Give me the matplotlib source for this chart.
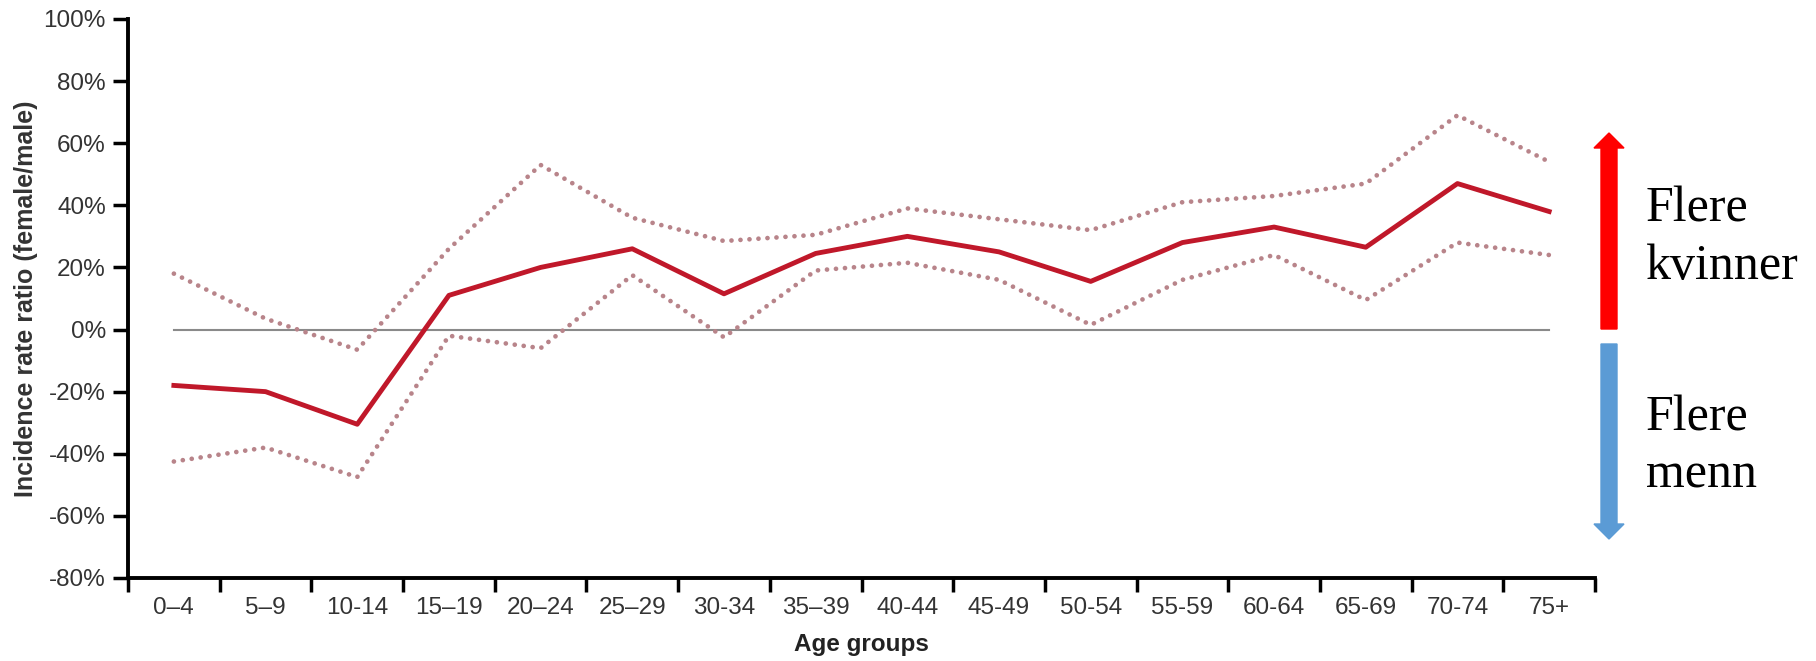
import numpy as np
import matplotlib.pyplot as plt
from matplotlib.ticker import FixedLocator, PercentFormatter
from matplotlib.patches import FancyArrow

plt.rcParams['font.family'] = ['Liberation Sans', 'DejaVu Sans']
plt.rcParams['axes.unicode_minus'] = False

age_groups = ['0–4', '5–9', '10-14', '15–19', '20–24', '25–29', '30-34', '35–39',
              '40-44', '45-49', '50-54', '55-59', '60-64', '65-69', '70-74', '75+']
irr = [-18, -20, -30.5, 11, 20, 26, 11.5, 24.5, 30, 25, 15.5, 28, 33, 26.5, 47, 38]
upper = [18, 3.5, -6.5, 26, 53, 36, 28.5, 30.5, 39, 35.5, 32, 41, 43, 47, 69, 54]
lower = [-42.5, -38, -47.5, -2, -6, 17.5, -2.5, 19, 21.5, 16, 1.5, 16, 24, 9.5, 28, 24]

ticklabels_y = [-80, -60, -40, -20, 0, 20, 40, 60, 80, 100]

fig = plt.figure(figsize=(18.16, 6.61), dpi=100)
ax = fig.add_axes([0.0705, 0.1256, 0.8078, 0.8457])

x = np.arange(len(age_groups))
ax.plot([x[0], x[-1]], [0, 0], color='#8a8a8a', lw=1.5, zorder=1)
ax.plot(x, upper, color='#b8848a', lw=3.4, linestyle=(0, (0.01, 1.9)),
        dash_capstyle='round', zorder=2)
ax.plot(x, lower, color='#b8848a', lw=3.4, linestyle=(0, (0.01, 1.9)),
        dash_capstyle='round', zorder=2)
ax.plot(x, irr, color='#c0182a', lw=3.5, zorder=3)

ax.set_xlim(-0.5, len(age_groups) - 0.5)
ax.set_ylim(-80, 100)

ax.set_xticks(x)
ax.set_xticklabels(age_groups)
ax.xaxis.set_minor_locator(FixedLocator(np.arange(-0.5, len(age_groups), 1)))
ax.tick_params(axis='x', which='major', length=0, pad=14, labelsize=17.5, labelcolor='#333333')
ax.tick_params(axis='x', which='minor', length=10, width=2.5, direction='out', color='black')

ax.set_yticks(ticklabels_y)
ax.yaxis.set_major_formatter(PercentFormatter(decimals=0))
ax.tick_params(axis='y', length=11, width=2.5, pad=5, labelsize=17.5, labelcolor='#333333')

for s in ['top', 'right']:
    ax.spines[s].set_visible(False)
for s in ['left', 'bottom']:
    ax.spines[s].set_linewidth(2.8)

ax.set_ylabel('Incidence rate ratio (female/male)', fontsize=18, fontweight='bold',
              color='#333333', labelpad=4)
ax.set_xlabel('Age groups', fontsize=17.5, fontweight='bold', color='#222222', labelpad=10)

# side arrows with annotation
fig.add_artist(FancyArrow(1609 / 1816, 1 - 329 / 661, 0, (329 - 133) / 661,
                          width=16 / 1816, head_width=30 / 1816, head_length=15 / 661,
                          length_includes_head=True, color='#ff0000',
                          transform=fig.transFigure))
fig.add_artist(FancyArrow(1609 / 1816, 1 - 344 / 661, 0, -(539 - 344) / 661,
                          width=16 / 1816, head_width=30 / 1816, head_length=15 / 661,
                          length_includes_head=True, color='#5b9bd5',
                          transform=fig.transFigure))
fig.text(1646 / 1816, 1 - 238 / 661, 'Flere\nkvinner', fontsize=36, family='Liberation Serif',
         va='center', ha='left', linespacing=1.3)
fig.text(1646 / 1816, 1 - 447 / 661, 'Flere\nmenn', fontsize=36, family='Liberation Serif',
         va='center', ha='left', linespacing=1.3)

fig.savefig('out.png', dpi=100)
